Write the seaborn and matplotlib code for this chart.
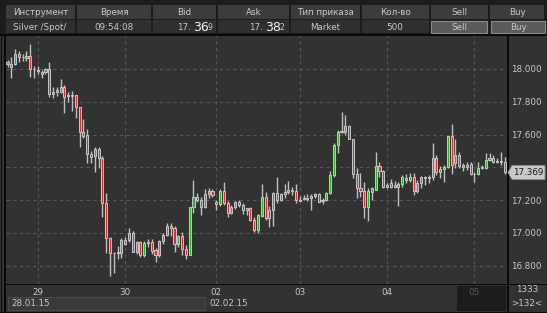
import numpy as np
import pandas as pd
import matplotlib
matplotlib.use("Agg")
import matplotlib.pyplot as plt
import seaborn as sns
from matplotlib.patches import Rectangle, Polygon

# ---------------- data ----------------
opens = [18.030, 18.012, 18.030, 18.091, 18.073, 18.067, 18.079, 18.000, 17.994, 17.970,
         17.982, 18.000, 17.848, 17.860, 17.860, 17.890, 17.841, 17.841, 17.841, 17.768,
         17.616, 17.598, 17.482, 17.470, 17.512, 17.457, 17.183, 16.970, 16.878, 16.878,
         16.878, 16.957, 16.957, 17.000, 16.884, 16.945, 16.866, 16.939, 16.945, 16.896,
         16.866, 16.951, 16.988, 17.043, 17.030, 16.933, 16.982, 16.903, 16.866, 17.159,
         17.220, 17.201, 17.159, 17.238, 17.256, 17.189, 17.177, 17.256, 17.183, 17.122,
         17.159, 17.189, 17.171, 17.152, 17.152, 17.079, 17.018, 17.104, 17.220, 17.140,
         17.140, 17.244, 17.201, 17.238, 17.250, 17.262, 17.256, 17.201, 17.210, 17.213,
         17.213, 17.226, 17.238, 17.201, 17.201, 17.244, 17.354, 17.537, 17.616, 17.616,
         17.652, 17.573, 17.360, 17.274, 17.256, 17.159, 17.250, 17.262, 17.409, 17.378,
         17.280, 17.305, 17.293, 17.280, 17.299, 17.323, 17.323, 17.341, 17.256, 17.305,
         17.341, 17.338, 17.341, 17.457, 17.372, 17.390, 17.402, 17.591, 17.427, 17.476,
         17.402, 17.415, 17.421, 17.360, 17.360, 17.396, 17.396, 17.445, 17.457, 17.439,
         17.433, 17.433]
highs = [18.055, 18.073, 18.122, 18.110, 18.091, 18.110, 18.152, 18.018, 18.018, 17.994,
         18.006, 18.043, 17.890, 17.890, 17.939, 17.902, 17.860, 17.866, 17.841, 17.768,
         17.695, 17.634, 17.500, 17.524, 17.524, 17.470, 17.244, 16.976, 16.884, 16.921,
         16.970, 16.976, 17.030, 17.012, 16.951, 16.951, 16.951, 16.963, 16.963, 16.909,
         16.957, 17.000, 17.061, 17.061, 17.043, 16.988, 17.006, 16.927, 17.159, 17.323,
         17.244, 17.220, 17.268, 17.274, 17.268, 17.201, 17.268, 17.311, 17.195, 17.171,
         17.195, 17.201, 17.183, 17.152, 17.159, 17.098, 17.116, 17.299, 17.250, 17.165,
         17.250, 17.341, 17.244, 17.299, 17.317, 17.280, 17.299, 17.226, 17.232, 17.238,
         17.238, 17.244, 17.244, 17.213, 17.250, 17.378, 17.549, 17.628, 17.738, 17.720,
         17.659, 17.573, 17.396, 17.366, 17.311, 17.274, 17.280, 17.494, 17.433, 17.384,
         17.305, 17.329, 17.317, 17.311, 17.354, 17.360, 17.366, 17.366, 17.323, 17.348,
         17.348, 17.354, 17.549, 17.476, 17.409, 17.415, 17.591, 17.665, 17.573, 17.494,
         17.427, 17.433, 17.433, 17.372, 17.433, 17.415, 17.488, 17.488, 17.476, 17.457,
         17.494, 17.463]
lows = [18.012, 17.945, 18.024, 18.043, 18.049, 18.049, 17.951, 17.945, 17.970, 17.945,
        17.970, 17.829, 17.823, 17.835, 17.854, 17.732, 17.799, 17.744, 17.701, 17.524,
        17.579, 17.427, 17.427, 17.372, 17.396, 17.098, 16.878, 16.738, 16.756, 16.842,
        16.848, 16.927, 16.945, 16.884, 16.872, 16.854, 16.854, 16.915, 16.872, 16.823,
        16.854, 16.933, 16.982, 16.982, 16.884, 16.915, 16.866, 16.842, 16.866, 17.122,
        17.189, 17.110, 17.152, 17.213, 17.220, 17.140, 17.165, 17.171, 17.098, 17.116,
        17.146, 17.159, 17.116, 17.110, 17.073, 17.006, 17.000, 17.098, 17.079, 17.036,
        17.043, 17.183, 17.195, 17.213, 17.238, 17.232, 17.183, 17.195, 17.201, 17.195,
        17.140, 17.213, 17.189, 17.177, 17.195, 17.238, 17.341, 17.488, 17.610, 17.598,
        17.573, 17.335, 17.213, 17.220, 17.091, 17.073, 17.201, 17.262, 17.341, 17.274,
        17.274, 17.274, 17.274, 17.165, 17.280, 17.305, 17.311, 17.232, 17.244, 17.274,
        17.293, 17.305, 17.323, 17.354, 17.335, 17.311, 17.396, 17.360, 17.396, 17.396,
        17.378, 17.384, 17.354, 17.311, 17.354, 17.390, 17.390, 17.439, 17.427, 17.427,
        17.415, 17.360]
closes = [18.043, 18.030, 18.091, 18.073, 18.070, 18.079, 18.000, 17.997, 17.988, 17.982,
          18.000, 17.848, 17.860, 17.872, 17.890, 17.829, 17.838, 17.838, 17.768, 17.616,
          17.591, 17.482, 17.463, 17.512, 17.457, 17.183, 16.970, 16.878, 16.875, 16.881,
          16.957, 16.933, 17.000, 16.884, 16.945, 16.866, 16.939, 16.945, 16.890, 16.866,
          16.951, 16.988, 17.043, 17.030, 16.933, 16.982, 16.903, 16.866, 17.159, 17.220,
          17.201, 17.159, 17.238, 17.256, 17.232, 17.177, 17.256, 17.183, 17.122, 17.159,
          17.189, 17.171, 17.140, 17.140, 17.079, 17.018, 17.110, 17.220, 17.091, 17.091,
          17.244, 17.201, 17.238, 17.250, 17.262, 17.256, 17.201, 17.198, 17.213, 17.210,
          17.226, 17.238, 17.189, 17.195, 17.244, 17.354, 17.537, 17.616, 17.622, 17.652,
          17.573, 17.360, 17.274, 17.256, 17.159, 17.256, 17.274, 17.409, 17.378, 17.280,
          17.293, 17.280, 17.280, 17.299, 17.341, 17.335, 17.341, 17.256, 17.305, 17.341,
          17.338, 17.341, 17.457, 17.372, 17.390, 17.402, 17.591, 17.415, 17.476, 17.409,
          17.415, 17.402, 17.360, 17.357, 17.396, 17.399, 17.445, 17.457, 17.433, 17.433,
          17.439, 17.369]

day_labels = ["29", "30", "02", "03", "04", "05"]
day_starts = [8, 31, 55, 77, 100, 123]
price_ticks = [16.8, 17.0, 17.2, 17.4, 17.6, 17.8, 18.0]
last_price = 17.369

header_labels = ["Инструмент", "Время", "Bid", "Ask", "Тип приказа", "Кол-во", "Sell", "Buy"]
instrument = "Silver /Spot/"
time_str = "09:54:08"
bid_parts = ["17.", "36", "9"]
ask_parts = ["17.", "38", "2"]
order_type = "Market"
quantity = "500"
date_left = "28.01.15"
date_right = "02.02.15"
count_top = "1333"
count_bottom = ">132<"

# ---------------- style ----------------
W, H = 547, 313
BG = "#323232"
TXT = "#c8c8c8"
sns.set_theme(style="dark", rc={"axes.facecolor": BG, "figure.facecolor": BG})
plt.rcParams["font.family"] = ["DejaVu Sans"]
FS = 6.3

fig = plt.figure(figsize=(W / 100, H / 100), dpi=100, facecolor=BG)


def fx(x):
    return x / W


def fy(y):
    return 1 - y / H


def rect(x0, y0, x1, y1, fc, ec="none", lw=0.0, z=-1):
    fig.add_artist(Rectangle((fx(x0), fy(y1)), (x1 - x0) / W, (y1 - y0) / H,
                             transform=fig.transFigure, facecolor=fc,
                             edgecolor=ec, linewidth=lw, zorder=z))


def txt(x, y, s, **kw):
    kw.setdefault("color", TXT)
    kw.setdefault("fontsize", FS)
    kw.setdefault("va", "center")
    kw.setdefault("ha", "center")
    fig.text(fx(x), fy(y), s, **kw)


# ---------------- header ----------------
rect(0, 0, W, 35, "#1c1c1c")
cells = [(5, 76), (76, 152), (152, 217), (217, 290), (290, 361), (361, 430), (430, 489), (489, 545)]
for (a, b), lab in zip(cells, header_labels):
    rect(a + 1, 5, b - 1, 19, "#3c3c3c")
    txt((a + b) / 2, 12.5, lab)
for i, (a, b) in enumerate(cells):
    if i < 6:
        rect(a + 1, 20, b - 1, 33, "#2f2f2f")
# buttons
rect(431, 21, 487, 33, "#5a5a5a", ec="#8a8a8a", lw=0.8)
rect(491, 21, 545, 33, "#5a5a5a", ec="#8a8a8a", lw=0.8)
txt(459, 27, "Sell")
txt(518, 27, "Buy")
txt(40, 27, instrument)
txt(114, 27, time_str)
txt(191, 27, bid_parts[0], ha="right")
txt(193, 27.5, bid_parts[1], ha="left", fontsize=9, color="#f2f2f2")
txt(208, 28, bid_parts[2], ha="left", fontsize=5.5)
txt(263, 27, ask_parts[0], ha="right")
txt(265, 27.5, ask_parts[1], ha="left", fontsize=9, color="#f2f2f2")
txt(280, 28, ask_parts[2], ha="left", fontsize=5.5)
txt(325, 27, order_type)
txt(395, 27, quantity)

# ---------------- chart ----------------
ax = fig.add_axes([6 / W, 29 / H, 501 / W, 249 / H])
ax.set_facecolor(BG)
df = pd.DataFrame({"open": opens, "high": highs, "low": lows, "close": closes})
df["idx"] = np.arange(len(df))
up = df["close"] >= df["open"]
body_lo = df[["open", "close"]].min(axis=1)
body_h = (df["close"] - df["open"]).abs().clip(lower=0.004)

ax.vlines(df["idx"], df["low"], df["high"], color="#bfbfbf", linewidth=1.0, zorder=2)
ax.bar(df["idx"], body_h, bottom=body_lo, width=0.55,
       color=np.where(up, "#1fb51f", "#e8262a"), edgecolor="#c4c4c4",
       linewidth=0.75, zorder=3)

ax.set_xlim(-0.4, 131.6)
ax.set_ylim(16.689, 18.207)
ax.set_xticks(day_starts)
ax.set_xticklabels(day_labels)
ax.set_yticks(price_ticks)
# the 17.400 label sits under the last-price marker, as in the reference
ax.set_yticklabels(["" if abs(v - 17.4) < 1e-9 else f"{v:.3f}" for v in price_ticks])
ax.yaxis.tick_right()
ax.tick_params(axis="y", length=0, pad=3, labelcolor=TXT, labelsize=FS)
ax.tick_params(axis="x", length=0, pad=3, labelcolor=TXT, labelsize=FS)
ax.get_xticklabels()[-1].set_color("#5c5c5c")
ax.grid(True, color="#575757", linestyle=(0, (3, 3)), linewidth=0.8)
for s in ax.spines.values():
    s.set_visible(False)

# ---------------- frame lines ----------------
rect(0, 34, 547, 35.5, "#0a0a0a", z=1)
rect(1, 34, 2.2, 313, "#0a0a0a", z=1)
rect(4, 34, 5.5, 313, "#0a0a0a", z=1)
rect(507, 34, 508.5, 313, "#0a0a0a", z=1)
rect(4, 284, 547, 285.3, "#0a0a0a", z=1)
rect(0, 311.8, 547, 313, "#0a0a0a", z=1)

# bottom strip
rect(8, 297, 205, 310, "#3a3a3a", ec="#4a4a4a", lw=0.8)
rect(457, 286, 506, 311, "#1c1c1c")
txt(11, 304, date_left, ha="left")
txt(209, 304, date_right, ha="left")
txt(527, 290, count_top)
txt(527, 304, count_bottom)

# last price marker
py = fy(69 + (18.0 - last_price) * 164)
fig.add_artist(Polygon([(fx(508), py), (fx(512), py + 7 / H), (fx(545), py + 7 / H),
                        (fx(545), py - 7 / H), (fx(512), py - 7 / H)],
                       closed=True, transform=fig.transFigure, facecolor="#c8c8c8",
                       edgecolor="#8c8c8c", linewidth=0.6, zorder=5))
fig.text(fx(528), py, f"{last_price:.3f}", color="#1a1a1a", fontsize=FS,
         ha="center", va="center", zorder=6)

fig.savefig("out.png", dpi=100, facecolor=BG)
